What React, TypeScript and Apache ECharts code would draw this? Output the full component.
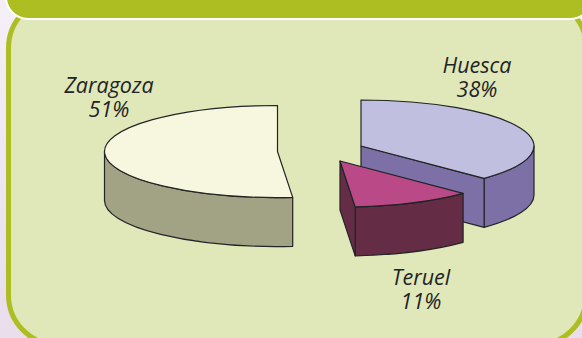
import React, { useEffect, useRef } from "react";
import * as echarts from "echarts";

// Slices clockwise from 12 o'clock.
const sliceNames = ["Huesca", "Teruel", "Zaragoza"];
const sliceLabels = ["38%", "11%", "51%"];
// Angular shares as measured on the drawn pie (the drawing differs slightly from its rounded labels).
const sliceShares = [37.4, 11.2, 51.4];

const topColors = ["#C1BFE0", "#B94A87", "#F7F6DF"];
const wallColors = ["#7C70A7", "#652C45", "#A2A384"];
const sliceCentres = [[361, 146], [340, 161], [277.5, 151.5]];
const labelCentres = [[477, 76], [421, 288], [109, 96]];
const RX = 173;
const RY = 46;
const DEPTH = 49;
const INK = "#222426";

const rad = (d: number) => (d * Math.PI) / 180;

function renderItem(params: any, api: any) {
  const i = params.dataIndex;
  const total = sliceShares.reduce((s, v) => s + v, 0);
  const before = sliceShares.slice(0, i).reduce((s, v) => s + v, 0);
  const a = (before / total) * 360;
  const b = a + (api.value(0) / total) * 360;
  const [cx, cy] = sliceCentres[i];
  const px = (t: number) => cx + RX * Math.sin(rad(t));
  const py = (t: number) => cy - RY * Math.cos(rad(t));
  const line = { stroke: INK, lineWidth: 1.2, lineJoin: "round" };
  const children: any[] = [];

  // Outer wall: only the part of the rim that faces the viewer.
  const wa = Math.max(a, 90);
  const wb = Math.min(b, 270);
  if (wb > wa) {
    const d =
      `M${px(wa)} ${py(wa)} A${RX} ${RY} 0 0 1 ${px(wb)} ${py(wb)} ` +
      `L${px(wb)} ${py(wb) + DEPTH} A${RX} ${RY} 0 0 0 ${px(wa)} ${py(wa) + DEPTH} Z`;
    children.push({ type: "path", shape: { pathData: d }, style: { fill: wallColors[i], ...line } });
  }
  // Cut faces that turn towards the viewer.
  const face = (t: number) =>
    `M${cx} ${cy} L${px(t)} ${py(t)} L${px(t)} ${py(t) + DEPTH} L${cx} ${cy + DEPTH} Z`;
  if (Math.sin(rad(a)) < -1e-6) {
    children.push({ type: "path", shape: { pathData: face(a) }, style: { fill: wallColors[i], ...line } });
  }
  if (Math.sin(rad(b)) > 1e-6) {
    children.push({ type: "path", shape: { pathData: face(b) }, style: { fill: wallColors[i], ...line } });
  }
  // Top face.
  const large = b - a > 180 ? 1 : 0;
  const top = `M${cx} ${cy} L${px(a)} ${py(a)} A${RX} ${RY} 0 ${large} 1 ${px(b)} ${py(b)} Z`;
  children.push({ type: "path", shape: { pathData: top }, style: { fill: topColors[i], ...line } });
  // Label.
  children.push({
    type: "text",
    x: labelCentres[i][0],
    y: labelCentres[i][1],
    style: {
      text: `${sliceNames[i]}\n${sliceLabels[i]}`,
      font: 'italic 21.5px "Open Sans"',
      lineHeight: 24,
      align: "center",
      verticalAlign: "middle",
      fill: INK,
    },
  });
  return { type: "group", children };
}

export default function App() {
  const ref = useRef<HTMLDivElement>(null);
  useEffect(() => {
    document.body.style.margin = "0";
    const chart = echarts.init(ref.current!, null, { renderer: "svg" });
    chart.setOption({
      animation: false,
      graphic: [
        {
          type: "rect",
          shape: { x: 0, y: 0, width: 582, height: 338 },
          style: {
            fill: new echarts.graphic.LinearGradient(0, 0, 0, 1, [
              { offset: 0, color: "#F5F0F8" },
              { offset: 0.5, color: "#EFE6F1" },
              { offset: 1, color: "#EADDEC" },
            ]),
          },
        },
        {
          type: "rect",
          shape: { x: 8.5, y: -2, width: 578, height: 347, r: 50 },
          style: { fill: "#E0E7B9", stroke: "#ACBE22", lineWidth: 5 },
        },
        {
          type: "rect",
          shape: { x: 6, y: -30, width: 586, height: 49, r: 22 },
          style: { fill: "#ACBE22", stroke: "#FFFFFF", lineWidth: 2 },
        },
      ],
      series: [
        {
          type: "custom",
          coordinateSystem: "none",
          renderItem,
          silent: true,
          data: sliceShares.map((v, i) => ({ name: sliceNames[i], value: [v] })),
        },
      ],
    });
    return () => chart.dispose();
  }, []);
  return <div ref={ref} style={{ width: 582, height: 338, overflow: "hidden" }} />;
}
